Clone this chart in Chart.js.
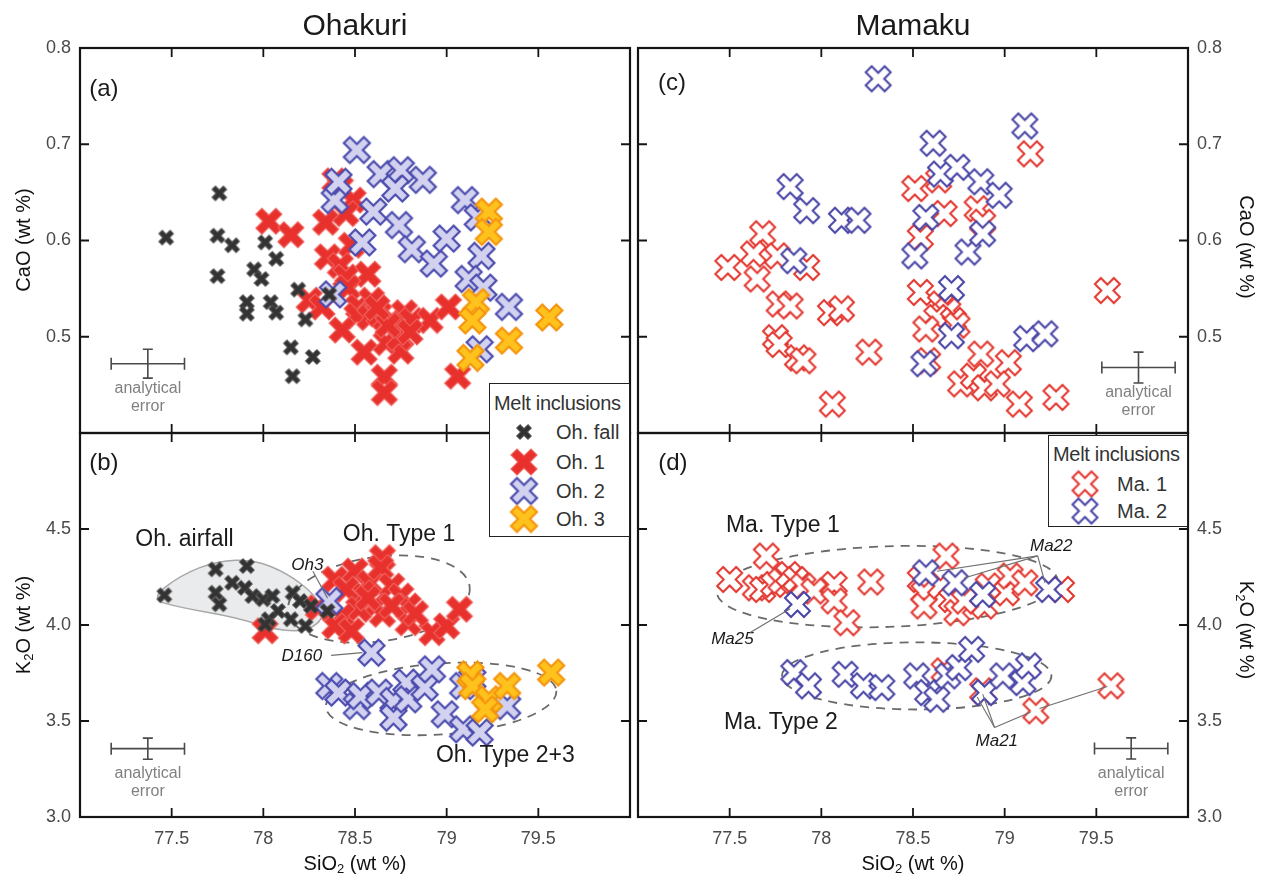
<!DOCTYPE html>
<html>
<head>
<meta charset="utf-8">
<title>Ohakuri / Mamaku melt inclusions</title>
<script src="https://cdn.jsdelivr.net/npm/chart.js@4.4.0/dist/chart.umd.min.js"></script>
<style>
  html, body { margin: 0; padding: 0; background: #fff; }
  #page { position: relative; width: 1263px; height: 879px; overflow: hidden;
          font-family: 'Liberation Sans', Arial, sans-serif; color: #1a1a1a; }
  #page canvas.panel { position: absolute; left: 0; top: 0; }
  .lbl { position: absolute; white-space: nowrap; transform: translate(-50%, -50%); }
  .title { font-size: 30px; }
  .axt { font-size: 20px; color: #111; }
  .rotL { transform: translate(-50%, -50%) rotate(-90deg); }
  .rotR { transform: translate(-50%, -50%) rotate(90deg); }
  sub { font-size: 65%; vertical-align: -0.3em; line-height: 0; }
  .legend { position: absolute; background: #fff; border: 1.5px solid #222; box-sizing: border-box; }
  .legend .lt { position: absolute; left: 4px; font-size: 20px; letter-spacing: -0.3px; transform: translateY(-50%); color: #333; }
  .legend .row { position: absolute; font-size: 20px; transform: translateY(-50%); color: #333; }
  .legend img { position: absolute; transform: translate(-50%, -50%); }
</style>
</head>
<body>
<div id="page">
  <canvas id="pa" class="panel" width="1263" height="879"></canvas>
  <canvas id="pb" class="panel" width="1263" height="879"></canvas>
  <canvas id="pc" class="panel" width="1263" height="879"></canvas>
  <canvas id="pd" class="panel" width="1263" height="879"></canvas>

  <div class="lbl title" style="left:355px;top:25px;">Ohakuri</div>
  <div class="lbl title" style="left:913px;top:25px;">Mamaku</div>
  <div class="lbl axt" style="left:355px;top:863px;">SiO<sub>2</sub> (wt %)</div>
  <div class="lbl axt" style="left:913px;top:863px;">SiO<sub>2</sub> (wt %)</div>
  <div class="lbl axt rotL" style="left:23px;top:240px;">CaO (wt %)</div>
  <div class="lbl axt rotL" style="left:23px;top:625px;">K<sub>2</sub>O (wt %)</div>
  <div class="lbl axt rotR" style="left:1246px;top:247px;">CaO (wt %)</div>
  <div class="lbl axt rotR" style="left:1246px;top:630px;">K<sub>2</sub>O (wt %)</div>

  <div class="legend" style="left:489px;top:383px;width:141px;height:154px;">
    <div class="lt" style="top:19px;">Melt inclusions</div>
    <img id="lg-fall" style="left:34px;top:48px;"><div class="row" style="left:66px;top:48px;">Oh. fall</div>
    <img id="lg-oh1" style="left:34px;top:78px;"><div class="row" style="left:66px;top:78px;">Oh. 1</div>
    <img id="lg-oh2" style="left:34px;top:107px;"><div class="row" style="left:66px;top:107px;">Oh. 2</div>
    <img id="lg-oh3" style="left:34px;top:135px;"><div class="row" style="left:66px;top:135px;">Oh. 3</div>
  </div>
  <div class="legend" style="left:1048px;top:435px;width:140px;height:92px;">
    <div class="lt" style="top:18px;">Melt inclusions</div>
    <img id="lg-ma1" style="left:36px;top:48px;"><div class="row" style="left:68px;top:48px;">Ma. 1</div>
    <img id="lg-ma2" style="left:36px;top:75px;"><div class="row" style="left:68px;top:75px;">Ma. 2</div>
  </div>
</div>

<script>
// ---- data (SiO2 / CaO / K2O in wt %) ----

// (a) Ohakuri, CaO vs SiO2
const ohFallSiO2_a = [77.47, 77.76, 77.75, 77.83, 77.75, 77.95, 77.99, 78.01, 78.07, 77.91, 77.91, 78.04, 78.07, 78.19, 78.23, 78.36, 78.15, 78.27, 78.16];
const ohFallCaO_a  = [0.603, 0.649, 0.605, 0.595, 0.563, 0.570, 0.560, 0.598, 0.581, 0.536, 0.524, 0.536, 0.525, 0.549, 0.518, 0.544, 0.489, 0.479, 0.459];
const oh1SiO2_a = [78.03, 78.15, 78.34, 78.39, 78.42, 78.49, 78.45, 78.48, 78.35, 78.42, 78.45, 78.57, 78.46, 78.25, 78.32, 78.52, 78.59, 78.51, 78.58, 78.63, 78.70, 78.77, 78.81, 78.91, 79.01, 78.43, 78.55, 78.67, 78.75, 78.74, 78.66, 78.66, 79.06, 78.68, 78.80, 78.62];
const oh1CaO_a  = [0.620, 0.606, 0.619, 0.662, 0.655, 0.642, 0.628, 0.595, 0.583, 0.574, 0.562, 0.565, 0.551, 0.538, 0.531, 0.531, 0.538, 0.522, 0.520, 0.524, 0.517, 0.525, 0.517, 0.517, 0.531, 0.507, 0.484, 0.494, 0.485, 0.499, 0.458, 0.442, 0.459, 0.512, 0.505, 0.530];
const oh2SiO2_a = [78.51, 78.64, 78.75, 78.72, 78.87, 78.39, 78.41, 78.60, 78.74, 78.81, 78.93, 79.00, 78.54, 79.10, 79.17, 79.19, 79.12, 79.20, 79.34, 79.18, 78.38];
const oh2CaO_a  = [0.694, 0.669, 0.673, 0.654, 0.663, 0.642, 0.661, 0.630, 0.616, 0.591, 0.576, 0.602, 0.598, 0.642, 0.624, 0.584, 0.560, 0.551, 0.531, 0.487, 0.544];
const oh3SiO2_a = [79.23, 79.23, 79.16, 79.14, 79.34, 79.56, 79.13];
const oh3CaO_a  = [0.630, 0.609, 0.536, 0.517, 0.496, 0.520, 0.478];

// (b) Ohakuri, K2O vs SiO2
const ohFallSiO2_b = [77.46, 77.74, 77.91, 77.74, 77.76, 77.83, 77.90, 77.94, 78.00, 78.05, 78.16, 78.20, 78.26, 78.35, 78.08, 78.03, 78.01, 78.15, 78.23];
const ohFallK2O_b  = [4.155, 4.290, 4.307, 4.168, 4.108, 4.220, 4.194, 4.151, 4.134, 4.151, 4.168, 4.125, 4.099, 4.073, 4.073, 4.030, 4.003, 4.030, 3.995];
const oh1SiO2_b = [78.39, 78.50, 78.58, 78.65, 78.64, 78.54, 78.45, 78.70, 78.75, 78.79, 78.61, 78.52, 78.43, 78.39, 78.48, 78.79, 78.65, 78.92, 79.00, 79.07, 78.30, 78.01, 78.70, 78.57, 78.83];
const oh1K2O_b  = [4.238, 4.281, 4.220, 4.351, 4.299, 4.168, 4.186, 4.203, 4.151, 4.099, 4.099, 4.082, 4.047, 3.995, 3.969, 4.012, 4.056, 3.960, 3.995, 4.082, 4.090, 3.970, 4.100, 4.140, 4.060];
const oh2SiO2_b = [78.36, 78.59, 78.36, 78.41, 78.51, 78.53, 78.63, 78.71, 78.71, 78.78, 78.79, 78.88, 78.92, 78.99, 79.09, 79.18, 79.14, 79.33, 79.09];
const oh2K2O_b  = [4.125, 3.856, 3.682, 3.648, 3.578, 3.630, 3.648, 3.604, 3.517, 3.700, 3.613, 3.674, 3.769, 3.535, 3.457, 3.440, 3.717, 3.578, 3.682];
const oh3SiO2_b = [79.13, 79.14, 79.23, 79.21, 79.33, 79.57];
const oh3K2O_b  = [3.743, 3.682, 3.613, 3.561, 3.682, 3.752];

// (c) Mamaku, CaO vs SiO2
const ma1SiO2_c = [79.14, 78.51, 78.64, 78.67, 78.85, 78.88, 78.54, 77.68, 77.49, 77.63, 77.76, 77.92, 77.65, 77.77, 77.83, 78.05, 78.11, 77.75, 77.77, 77.87, 77.90, 78.26, 78.06, 78.54, 78.65, 78.69, 78.63, 78.72, 78.57, 78.74, 78.58, 78.87, 79.02, 78.76, 78.83, 78.89, 78.96, 79.08, 79.28, 79.56];
const ma1CaO_c  = [0.690, 0.654, 0.663, 0.628, 0.633, 0.619, 0.603, 0.607, 0.572, 0.586, 0.584, 0.572, 0.560, 0.534, 0.532, 0.525, 0.529, 0.499, 0.492, 0.478, 0.475, 0.484, 0.430, 0.546, 0.534, 0.527, 0.520, 0.517, 0.508, 0.512, 0.475, 0.482, 0.473, 0.451, 0.459, 0.447, 0.451, 0.430, 0.437, 0.548];
const ma2SiO2_c = [78.31, 79.11, 78.61, 78.65, 78.74, 78.87, 78.97, 77.83, 77.92, 78.11, 78.20, 78.57, 78.51, 78.80, 78.88, 77.85, 78.71, 78.71, 78.56, 79.12, 79.22];
const ma2CaO_c  = [0.768, 0.719, 0.701, 0.669, 0.676, 0.661, 0.647, 0.656, 0.631, 0.621, 0.621, 0.624, 0.584, 0.588, 0.607, 0.579, 0.550, 0.501, 0.472, 0.498, 0.503];

// (d) Mamaku, K2O vs SiO2
const ma1SiO2_d = [77.50, 77.70, 77.64, 77.68, 77.74, 77.78, 77.82, 77.86, 77.90, 77.96, 78.07, 78.07, 78.14, 78.27, 78.68, 78.54, 78.56, 78.56, 78.65, 78.71, 78.74, 78.78, 78.89, 78.91, 79.01, 79.03, 79.11, 79.31, 78.67, 78.88, 79.17, 79.58];
const ma1K2O_d  = [4.237, 4.359, 4.194, 4.185, 4.211, 4.229, 4.263, 4.237, 4.203, 4.177, 4.211, 4.125, 4.012, 4.224, 4.359, 4.237, 4.168, 4.099, 4.203, 4.133, 4.064, 4.125, 4.099, 4.203, 4.168, 4.255, 4.220, 4.185, 3.761, 3.657, 3.553, 3.683];
const ma2SiO2_d = [77.87, 78.57, 78.73, 78.88, 79.24, 77.85, 77.93, 78.13, 78.23, 78.33, 78.52, 78.58, 78.63, 78.69, 78.75, 78.82, 78.89, 78.99, 79.10, 79.13];
const ma2K2O_d  = [4.107, 4.272, 4.220, 4.159, 4.185, 3.752, 3.683, 3.743, 3.683, 3.674, 3.735, 3.648, 3.613, 3.735, 3.778, 3.873, 3.648, 3.735, 3.700, 3.787];

// axis ranges
const sio2Range = [77, 80];
const caoRange = [0.4, 0.8];
const k2oRange = [3.0, 5.0];

// ---- marker images: thick "x" crosses ----
function makeCross(size, arm, fill, stroke, lw) {
  const s = Math.ceil(size + lw + 4);
  const c = document.createElement('canvas');
  c.width = c.height = s;
  const ctx = c.getContext('2d');
  const E = size / 2, h = arm / 2, L = E * Math.SQRT2 - h;
  const pts = [[h, L], [h, h], [L, h], [L, -h], [h, -h], [h, -L], [-h, -L], [-h, -h], [-L, -h], [-L, h], [-h, h], [-h, L]];
  ctx.translate(s / 2, s / 2);
  ctx.beginPath();
  pts.forEach(([x, y], i) => {
    const X = (x - y) * Math.SQRT1_2, Y = (x + y) * Math.SQRT1_2;
    if (i) ctx.lineTo(X, Y); else ctx.moveTo(X, Y);
  });
  ctx.closePath();
  ctx.fillStyle = fill;
  ctx.fill();
  if (lw) { ctx.lineJoin = 'miter'; ctx.lineWidth = lw; ctx.strokeStyle = stroke; ctx.stroke(); }
  return c;
}

const mk = {
  fall: makeCross(15, 5, '#333333', '#555555', 1),
  oh1: makeCross(26, 8.5, '#e8302c', '#f0625e', 1.2),
  oh2: makeCross(26, 8.5, '#d2d2f0', '#4c4caf', 2.2),
  oh3: makeCross(26, 8.5, '#ffc21c', '#f5950f', 2.2),
  ma1: makeCross(25, 8.5, '#ffffff', '#e3372f', 2),
  ma2: makeCross(25, 8.5, '#ffffff', '#4845a6', 2)
};
['fall', 'oh1', 'oh2', 'oh3', 'ma1', 'ma2'].forEach(k => {
  document.getElementById('lg-' + k).src = mk[k].toDataURL();
});

// ---- annotation drawing (in data units, placed through the chart scales) ----
function makeDeco(items) {
  function px(chart, x, y) {
    return [chart.scales.x.getPixelForValue(x), chart.scales.y.getPixelForValue(y)];
  }
  function draw(chart, it) {
    const ctx = chart.ctx;
    ctx.save();
    if (it.kind === 'blob') {
      const p = it.pts.map(q => px(chart, q[0], q[1]));
      const n = p.length;
      const mid = i => [(p[i][0] + p[(i + 1) % n][0]) / 2, (p[i][1] + p[(i + 1) % n][1]) / 2];
      ctx.beginPath();
      let m = mid(n - 1);
      ctx.moveTo(m[0], m[1]);
      for (let i = 0; i < n; i++) {
        m = mid(i);
        ctx.quadraticCurveTo(p[i][0], p[i][1], m[0], m[1]);
      }
      ctx.closePath();
      ctx.fillStyle = 'rgba(215,218,222,0.55)';
      ctx.fill();
      ctx.strokeStyle = '#a8a8a8';
      ctx.lineWidth = 1.5;
      ctx.stroke();
    } else if (it.kind === 'ellipse') {
      const [cx, cy] = px(chart, it.cx, it.cy);
      const rx = Math.abs(chart.scales.x.getPixelForValue(it.cx + it.rx) - cx);
      const ry = Math.abs(chart.scales.y.getPixelForValue(it.cy + it.ry) - cy);
      ctx.beginPath();
      ctx.ellipse(cx, cy, rx, ry, it.rot * Math.PI / 180, 0, Math.PI * 2);
      ctx.setLineDash([9, 7]);
      ctx.strokeStyle = '#6a6a6a';
      ctx.lineWidth = 1.8;
      ctx.stroke();
    } else if (it.kind === 'line') {
      ctx.beginPath();
      it.pts.forEach((q, i) => {
        const [x, y] = px(chart, q[0], q[1]);
        if (i) ctx.lineTo(x, y); else ctx.moveTo(x, y);
      });
      ctx.strokeStyle = '#6e6e6e';
      ctx.lineWidth = 1.1;
      ctx.stroke();
    } else if (it.kind === 'text') {
      const [x, y] = px(chart, it.x, it.y);
      ctx.font = it.font;
      ctx.fillStyle = it.color || '#1a1a1a';
      ctx.textAlign = it.align || 'center';
      ctx.textBaseline = 'middle';
      ctx.fillText(it.text, x, y);
    } else if (it.kind === 'err') {
      const x0 = chart.scales.x.getPixelForValue(it.x - it.ex);
      const x1 = chart.scales.x.getPixelForValue(it.x + it.ex);
      const [cx, cy] = px(chart, it.x, it.y);
      const y0 = chart.scales.y.getPixelForValue(it.y + it.ey);
      const y1 = chart.scales.y.getPixelForValue(it.y - it.ey);
      ctx.strokeStyle = '#4a4a4a';
      ctx.lineWidth = 1.6;
      ctx.beginPath();
      ctx.moveTo(x0, cy); ctx.lineTo(x1, cy);
      ctx.moveTo(x0, cy - 6); ctx.lineTo(x0, cy + 6);
      ctx.moveTo(x1, cy - 6); ctx.lineTo(x1, cy + 6);
      ctx.moveTo(cx, y0); ctx.lineTo(cx, y1);
      ctx.moveTo(cx - 5, y0); ctx.lineTo(cx + 5, y0);
      ctx.moveTo(cx - 5, y1); ctx.lineTo(cx + 5, y1);
      ctx.stroke();
      ctx.font = '16px "Liberation Sans", Arial, sans-serif';
      ctx.fillStyle = '#808080';
      ctx.textAlign = 'center';
      ctx.textBaseline = 'middle';
      ctx.fillText('analytical', cx, cy + 25);
      ctx.fillText('error', cx, cy + 43);
    }
    ctx.restore();
  }
  return {
    id: 'deco',
    beforeDatasetsDraw(chart) {
      items.filter(i => i.kind === 'blob' || i.kind === 'ellipse').forEach(i => draw(chart, i));
    },
    afterDatasetsDraw(chart) {
      items.filter(i => i.kind !== 'blob' && i.kind !== 'ellipse').forEach(i => draw(chart, i));
      // frame and inward tick marks
      const a = chart.chartArea, ctx = chart.ctx, xs = chart.scales.x, ys = chart.scales.y;
      ctx.save();
      ctx.strokeStyle = '#141414';
      ctx.lineWidth = 1.8;
      ctx.beginPath();
      xs.ticks.forEach(t => {
        if (t.value <= xs.min || t.value >= xs.max) return;
        const x = xs.getPixelForValue(t.value);
        ctx.moveTo(x, a.top); ctx.lineTo(x, a.top + 9);
        ctx.moveTo(x, a.bottom); ctx.lineTo(x, a.bottom - 9);
      });
      ys.ticks.forEach(t => {
        if (t.value <= ys.min || t.value >= ys.max) return;
        const y = ys.getPixelForValue(t.value);
        ctx.moveTo(a.left, y); ctx.lineTo(a.left + 9, y);
        ctx.moveTo(a.right, y); ctx.lineTo(a.right - 9, y);
      });
      ctx.stroke();
      ctx.lineWidth = 2.2;
      ctx.strokeRect(a.left, a.top, a.right - a.left, a.bottom - a.top);
      ctx.restore();
    }
  };
}

const W = 1263, H = 879;
Chart.defaults.font.family = '"Liberation Sans", Arial, sans-serif';

function series(label, xs, ys, marker, order) {
  return { label, data: xs.map((v, i) => ({ x: v, y: ys[i] })), pointStyle: marker, pointRadius: 12, order };
}

function panel(id, o) {
  const right = o.yPos === 'right';
  const xh = o.showX ? 45 : 0;
  return new Chart(document.getElementById(id).getContext('2d'), {
    type: 'scatter',
    data: { datasets: o.datasets },
    options: {
      responsive: false,
      animation: false,
      devicePixelRatio: 1,
      events: [],
      layout: {
        padding: {
          left: right ? o.area.left : 0,
          right: right ? 0 : W - o.area.right,
          top: o.area.top,
          bottom: H - o.area.bottom - xh
        }
      },
      plugins: { legend: { display: false }, tooltip: { enabled: false } },
      scales: {
        x: {
          type: 'linear', min: sio2Range[0], max: sio2Range[1], position: 'bottom',
          afterFit: s => { s.height = xh; },
          grid: { display: false, drawTicks: false }, border: { display: false },
          ticks: {
            display: o.showX, stepSize: 0.5, padding: 11, color: '#4a4a4a', font: { size: 18 },
            callback: v => (v > 77.01 && v < 79.99) ? String(Math.round(v * 10) / 10) : ''
          }
        },
        y: {
          type: 'linear', min: o.yRange[0], max: o.yRange[1], position: o.yPos,
          afterFit: s => { s.width = right ? W - o.area.right : o.area.left; },
          grid: { display: false, drawTicks: false }, border: { display: false },
          ticks: { stepSize: o.yStep, padding: 9, color: '#4a4a4a', font: { size: 18 }, callback: o.yFmt }
        }
      }
    },
    plugins: [makeDeco(o.deco)]
  });
}

const labelFont = '23px "Liberation Sans", Arial, sans-serif';
const tagFont = 'italic 17px "Liberation Sans", Arial, sans-serif';
const panelFont = '24px "Liberation Sans", Arial, sans-serif';
const caoFmt = v => v > 0.45 ? v.toFixed(1) : '';
const k2oFmt = v => v < 4.9 ? v.toFixed(1) : '';

panel('pa', {
  area: { left: 80, top: 48, right: 630, bottom: 433 }, yPos: 'left', showX: false,
  yRange: caoRange, yStep: 0.1, yFmt: caoFmt,
  datasets: [
    series('Oh. fall', ohFallSiO2_a, ohFallCaO_a, mk.fall, 0),
    series('Oh. 3', oh3SiO2_a, oh3CaO_a, mk.oh3, 1),
    series('Oh. 2', oh2SiO2_a, oh2CaO_a, mk.oh2, 2),
    series('Oh. 1', oh1SiO2_a, oh1CaO_a, mk.oh1, 3)
  ],
  deco: [
    { kind: 'text', x: 77.13, y: 0.757, text: '(a)', font: panelFont },
    { kind: 'err', x: 77.37, y: 0.472, ex: 0.2, ey: 0.015 }
  ]
});

panel('pb', {
  area: { left: 80, top: 433, right: 630, bottom: 817 }, yPos: 'left', showX: true,
  yRange: k2oRange, yStep: 0.5, yFmt: k2oFmt,
  datasets: [
    series('Oh. fall', ohFallSiO2_b, ohFallK2O_b, mk.fall, 0),
    series('Oh. 3', oh3SiO2_b, oh3K2O_b, mk.oh3, 1),
    series('Oh. 2', oh2SiO2_b, oh2K2O_b, mk.oh2, 2),
    series('Oh. 1', oh1SiO2_b, oh1K2O_b, mk.oh1, 3)
  ],
  deco: [
    { kind: 'blob', pts: [[77.38, 4.135], [77.55, 4.26], [77.75, 4.335], [77.95, 4.34], [78.13, 4.27], [78.28, 4.16], [78.34, 4.05], [78.25, 3.97], [78.08, 3.97], [77.85, 4.04], [77.55, 4.09]] },
    { kind: 'ellipse', cx: 78.63, cy: 4.135, rx: 0.5, ry: 0.22, rot: -8 },
    { kind: 'ellipse', cx: 78.97, cy: 3.615, rx: 0.63, ry: 0.185, rot: -4 },
    { kind: 'text', x: 77.13, y: 4.84, text: '(b)', font: panelFont },
    { kind: 'text', x: 77.57, y: 4.446, text: 'Oh. airfall', font: labelFont },
    { kind: 'text', x: 78.74, y: 4.472, text: 'Oh. Type 1', font: labelFont },
    { kind: 'text', x: 79.32, y: 3.32, text: 'Oh. Type 2+3', font: labelFont },
    { kind: 'text', x: 78.24, y: 4.31, text: 'Oh3', font: tagFont },
    { kind: 'text', x: 78.21, y: 3.835, text: 'D160', font: tagFont },
    { kind: 'line', pts: [[78.27, 4.28], [78.35, 4.14]] },
    { kind: 'line', pts: [[78.37, 3.842], [78.54, 3.856]] },
    { kind: 'err', x: 77.37, y: 3.356, ex: 0.2, ey: 0.055 }
  ]
});

panel('pc', {
  area: { left: 638, top: 48, right: 1188, bottom: 433 }, yPos: 'right', showX: false,
  yRange: caoRange, yStep: 0.1, yFmt: caoFmt,
  datasets: [
    series('Ma. 2', ma2SiO2_c, ma2CaO_c, mk.ma2, 0),
    series('Ma. 1', ma1SiO2_c, ma1CaO_c, mk.ma1, 1)
  ],
  deco: [
    { kind: 'text', x: 77.185, y: 0.763, text: '(c)', font: panelFont },
    { kind: 'err', x: 79.73, y: 0.468, ex: 0.2, ey: 0.016 }
  ]
});

panel('pd', {
  area: { left: 638, top: 433, right: 1188, bottom: 817 }, yPos: 'right', showX: true,
  yRange: k2oRange, yStep: 0.5, yFmt: k2oFmt,
  datasets: [
    series('Ma. 2', ma2SiO2_d, ma2K2O_d, mk.ma2, 0),
    series('Ma. 1', ma1SiO2_d, ma1K2O_d, mk.ma1, 1)
  ],
  deco: [
    { kind: 'ellipse', cx: 78.36, cy: 4.2, rx: 0.93, ry: 0.21, rot: -2 },
    { kind: 'ellipse', cx: 78.52, cy: 3.735, rx: 0.735, ry: 0.175, rot: 0 },
    { kind: 'text', x: 77.19, y: 4.844, text: '(d)', font: panelFont },
    { kind: 'text', x: 77.79, y: 4.515, text: 'Ma. Type 1', font: labelFont },
    { kind: 'text', x: 77.78, y: 3.492, text: 'Ma. Type 2', font: labelFont },
    { kind: 'text', x: 77.515, y: 3.925, text: 'Ma25', font: tagFont },
    { kind: 'text', x: 79.254, y: 4.41, text: 'Ma22', font: tagFont },
    { kind: 'text', x: 78.957, y: 3.397, text: 'Ma21', font: tagFont },
    { kind: 'line', pts: [[77.61, 3.96], [77.83, 4.085]] },
    { kind: 'line', pts: [[79.18, 4.36], [78.63, 4.28]] },
    { kind: 'line', pts: [[79.18, 4.36], [78.78, 4.245]] },
    { kind: 'line', pts: [[79.18, 4.36], [79.22, 4.22]] },
    { kind: 'line', pts: [[78.945, 3.466], [78.85, 3.625]] },
    { kind: 'line', pts: [[78.945, 3.466], [78.88, 3.64]] },
    { kind: 'line', pts: [[78.945, 3.466], [79.14, 3.545]] },
    { kind: 'line', pts: [[79.19, 3.565], [79.56, 3.68]] },
    { kind: 'err', x: 79.69, y: 3.357, ex: 0.2, ey: 0.055 }
  ]
});
</script>
</body>
</html>
